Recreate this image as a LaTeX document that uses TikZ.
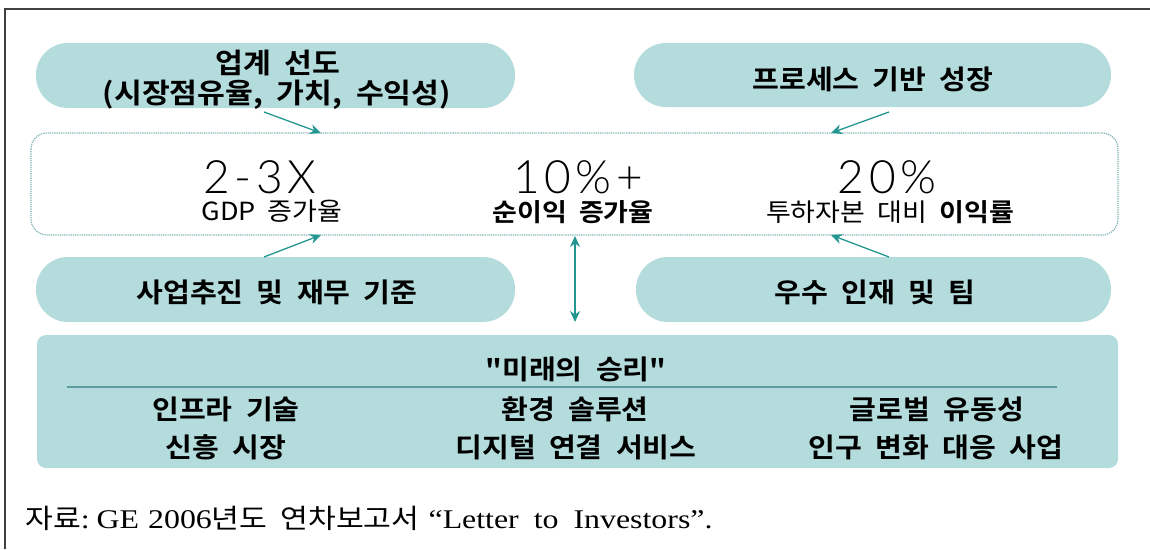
\documentclass[tikz,border=0pt]{standalone}
\usepackage{fontspec}
\setmainfont{Liberation Serif}[FakeStretch=1.18]
\newfontfamily\kr[WordSpace=2.0,FakeStretch=1.08,BoldFont={Noto Sans CJK KR Bold}]{Noto Sans CJK KR}
\newfontfamily\krcap[FakeStretch=1.12]{Noto Sans CJK KR}
\newfontfamily\numfont[LetterSpace=10]{Lato Light}
\usetikzlibrary{arrows.meta}
\definecolor{pillc}{HTML}{B4DCDD}
\definecolor{arrc}{HTML}{23978F}
\definecolor{rulec}{HTML}{5C9C9E}
\definecolor{dotc}{HTML}{7DB2B0}
\definecolor{framec}{HTML}{404040}
\tikzset{
  pill/.style={fill=pillc, rounded corners=32pt},
  lbl/.style={font=\kr\bfseries\fontsize{27}{31}\selectfont, text=black, inner sep=0pt, align=center},
  lbltop/.style={font=\kr\bfseries\fontsize{28}{33}\selectfont, text=black, inner sep=0pt, align=center},
  sub/.style={font=\kr\bfseries\fontsize{25}{29}\selectfont, text=black, inner sep=0pt, anchor=north},
  big/.style={font=\numfont\fontsize{46}{50}\selectfont, text=black, inner sep=0pt, anchor=base},
  conn/.style={draw=arrc, line width=1.3pt, -{Stealth[length=11pt,width=10pt]}},
  dconn/.style={draw=arrc, line width=1.3pt, {Stealth[length=11pt,width=10pt]}-{Stealth[length=11pt,width=10pt]}},
}
\newcommand{\kc}[1]{{\krcap\fontsize{27}{30}\selectfont #1}}
\begin{document}
\begin{tikzpicture}[x=1pt,y=-1pt]
\useasboundingbox (0,0) rectangle (1150,549);
% frame
\draw[framec, line width=1.4pt] (5,549) -- (5,9) -- (1150,9);
% pills
\fill[pill] (36,43) rectangle (515,108);
\fill[pill] (634,43) rectangle (1111,107);
\fill[pill] (36,257) rectangle (515,322);
\fill[pill] (636,257) rectangle (1111,322);
% middle box
\draw[dotc, densely dotted, line width=1.2pt, fill=white, rounded corners=16pt] (31,133) rectangle (1118,235);
% bottom box
\fill[pillc, rounded corners=9pt] (37,335) rectangle (1118,468);

% pill texts
\node[lbltop] (t1) at (278,63) {업계 선도};
\node[lbltop] (t1b) at (277,95) {(시장점유율, 가치, 수익성)};
\node[lbl] (t2) at (873,79) {프로세스 기반 성장};
\node[lbl] (t3) at (277,292) {사업추진 및 재무 기준};
\node[lbl] (t4) at (875,292) {우수 인재 및 팀};

% middle texts
\node[big] (n1) at (260,193) {2-3X};
\node[big] (n2) at (578,193) {10\%+};
\node[big] (n3) at (887,193) {20\%};
\node[sub, font=\kr\fontsize{25}{29}\selectfont] (s1) at (272,200) {GDP 증가율};
\node[sub] (s2) at (573,200) {순이익 증가율};
\node[sub] (s3) at (890,200) {{\mdseries 투하자본 대비} 이익률};

% bottom box texts
\node[lbl, font=\kr\bfseries\fontsize{27}{31}\selectfont] (h) at (576,369) {"미래의 승리"};
\coordinate (r1) at (67,387);
\coordinate (r2) at (1057,387);
\draw[rulec, line width=1.2pt] (r1) -- (r2);
\node[lbl] (b1) at (226,409) {인프라 기술};
\node[lbl] (b2) at (226,447) {신흥 시장};
\node[lbl] (b3) at (575,409) {환경 솔루션};
\node[lbl] (b4) at (576,447) {디지털 연결 서비스};
\node[lbl] (b5) at (937,409) {글로벌 유동성};
\node[lbl] (b6) at (936,447) {인구 변화 대응 사업};

% connector anchors
\coordinate (a1s) at (264,112); \coordinate (a1e) at (321,133);
\coordinate (a2s) at (889,112); \coordinate (a2e) at (831,133);
\coordinate (a3s) at (264,257); \coordinate (a3e) at (321,235);
\coordinate (a4s) at (889,257); \coordinate (a4e) at (831,235);
\coordinate (v1) at (575,236); \coordinate (v2) at (575,322);
\draw[conn] (a1s) -- (a1e);
\draw[conn] (a2s) -- (a2e);
\draw[conn] (a3s) -- (a3e);
\draw[conn] (a4s) -- (a4e);
\draw[dconn] (v1) -- (v2);

% caption
\node[anchor=base west, inner sep=0pt, font=\fontsize{27}{30}\selectfont] (cap) at (25,528)
  {\kc{자료}:\hspace{7pt}GE\hspace{9pt}2006\kc{년도}\hspace{13pt}\kc{연차보고서}\hspace{9pt}“Letter\hspace{15pt}to\hspace{15pt}Investors”.};
\end{tikzpicture}
\end{document}
